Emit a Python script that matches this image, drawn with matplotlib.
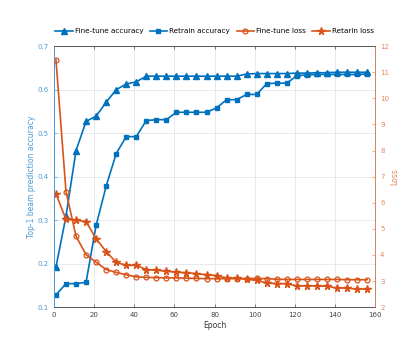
import numpy as np
import matplotlib.pyplot as plt

epochs = list(range(1, 157, 5))

finetune_acc = [0.192, 0.309, 0.460, 0.527, 0.539, 0.571, 0.600, 0.613, 0.618, 0.631,
                0.631, 0.631, 0.631, 0.631, 0.631, 0.631, 0.631, 0.631, 0.631, 0.636,
                0.637, 0.637, 0.637, 0.637, 0.638, 0.638, 0.639, 0.639, 0.640, 0.640,
                0.640, 0.640]
retrain_acc = [0.128, 0.154, 0.154, 0.157, 0.288, 0.378, 0.453, 0.492, 0.492, 0.529,
               0.531, 0.531, 0.548, 0.548, 0.548, 0.548, 0.558, 0.577, 0.577, 0.589,
               0.589, 0.614, 0.615, 0.615, 0.632, 0.634, 0.635, 0.635, 0.635, 0.635,
               0.635, 0.636]
finetune_loss = [11.48, 6.43, 4.72, 4.01, 3.72, 3.44, 3.33, 3.24, 3.16, 3.14,
                 3.13, 3.12, 3.12, 3.11, 3.10, 3.09, 3.09, 3.09, 3.09, 3.09,
                 3.10, 3.09, 3.07, 3.06, 3.06, 3.06, 3.06, 3.06, 3.06, 3.05,
                 3.05, 3.05]
retrain_loss = [6.34, 5.36, 5.33, 5.28, 4.62, 4.13, 3.72, 3.60, 3.60, 3.44,
                3.41, 3.38, 3.33, 3.32, 3.28, 3.24, 3.21, 3.11, 3.11, 3.07,
                3.02, 2.93, 2.90, 2.90, 2.81, 2.81, 2.81, 2.80, 2.73, 2.73,
                2.69, 2.69]

blue = '#0072BD'
orange = '#D95319'

fig = plt.figure(figsize=(4.15, 3.42), dpi=100)
ax = fig.add_axes([0.130, 0.102, 0.774, 0.763])
ax2 = ax.twinx()

l1, = ax.plot(epochs, finetune_acc, '-^', color=blue, lw=1.2, ms=4)
l2, = ax.plot(epochs, retrain_acc, '-s', color=blue, lw=1.2, ms=3)
l3, = ax2.plot(epochs, finetune_loss, '-o', color=orange, lw=1.2, ms=3.5, mfc='none', mew=0.9)
l4, = ax2.plot(epochs, retrain_loss, '-*', color=orange, lw=1.2, ms=5.5)

ax.set_xlim(0, 160)
ax.set_ylim(0.1, 0.7)
ax2.set_ylim(2, 12)
ax.set_xticks(range(0, 161, 20))
ax.set_yticks(np.arange(0.1, 0.71, 0.1))
ax2.set_yticks(range(2, 13))

ax.grid(True, color='#dfe6ee', lw=0.6)
ax.set_axisbelow(True)

for a in (ax, ax2):
    a.tick_params(direction='in', labelsize=5, length=2.5, width=0.5, top=True)
    for s in a.spines.values():
        s.set_linewidth(0.6)
        s.set_color('#555555')
ax.spines['left'].set_color('#4a9ad6')
ax2.spines['left'].set_color('#4a9ad6')
ax2.spines['right'].set_color('#e58a5e')
ax.tick_params(axis='y', colors='#4a9ad6')
ax2.tick_params(axis='y', colors='#e58a5e')
ax.tick_params(axis='x', colors='#444444')

ax.set_xlabel('Epoch', fontsize=5.5, color='#333333', labelpad=2)
ax.set_ylabel('Top-1 beam prediction accuracy', fontsize=5.5, color='#4a9ad6', labelpad=1)
ax2.set_ylabel('Loss', fontsize=5.5, color='#e58a5e', labelpad=1)

fig.legend([l1, l2, l3, l4],
           ['Fine-tune accuracy', 'Retrain accuracy', 'Fine-tune loss', 'Retarin loss'],
           loc='center', bbox_to_anchor=(0.517, 0.909), ncol=4, frameon=False,
           fontsize=5.2, handlelength=2.4, handletextpad=0.3, columnspacing=0.9)

fig.savefig('out.png', dpi=100)
